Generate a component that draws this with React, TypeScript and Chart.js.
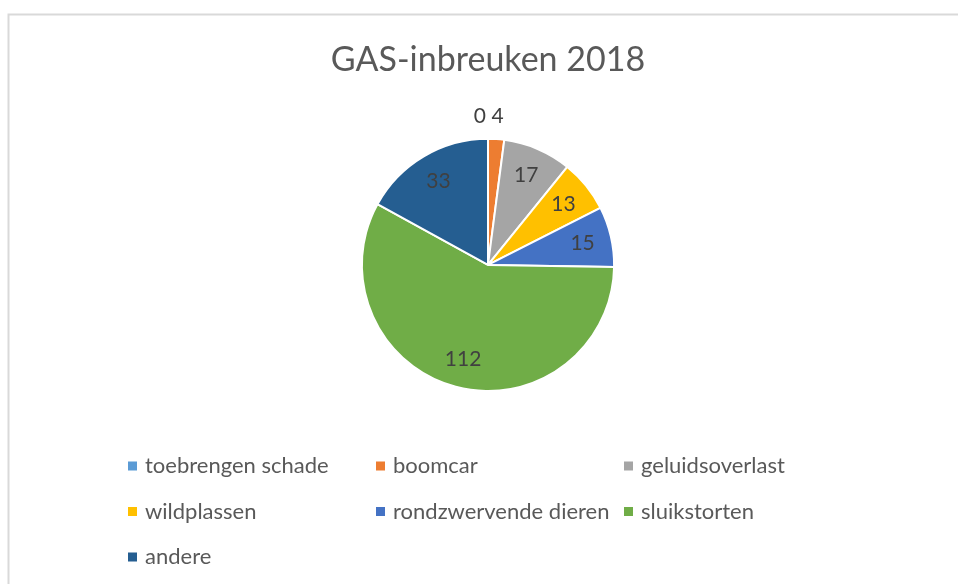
import React, { useEffect, useRef } from "react";
import { Chart, registerables } from "chart.js";

Chart.register(...registerables);

const title = "GAS-inbreuken 2018";
const categories = [
  "toebrengen schade",
  "boomcar",
  "geluidsoverlast",
  "wildplassen",
  "rondzwervende dieren",
  "sluikstorten",
  "andere",
];
const values = [0, 4, 17, 13, 15, 112, 33];
const colors = ["#5B9BD5", "#ED7D31", "#A5A5A5", "#FFC000", "#4472C4", "#70AD47", "#255E91"];

const FONT = "Lato, 'Open Sans', 'DejaVu Sans', sans-serif";
const TEXT = "#595959";
const LABEL = "#404040";

const framePlugin = {
  id: "frame",
  beforeDraw(chart: any) {
    const ctx = chart.ctx;
    ctx.save();
    ctx.fillStyle = "#ffffff";
    ctx.fillRect(0, 0, chart.width, chart.height);
    ctx.strokeStyle = "#d9d9d9";
    ctx.lineWidth = 2;
    ctx.beginPath();
    ctx.moveTo(8.5, chart.height + 2);
    ctx.lineTo(8.5, 14.5);
    ctx.lineTo(chart.width + 2, 14.5);
    ctx.stroke();
    ctx.restore();
  },
};

const labelPlugin = {
  id: "sliceLabels",
  afterDatasetsDraw(chart: any) {
    const ctx = chart.ctx;
    const meta = chart.getDatasetMeta(0);
    const data = chart.data.datasets[0].data as number[];
    const total = data.reduce((a, b) => a + b, 0);
    ctx.save();
    ctx.font = `21px ${FONT}`;
    ctx.fillStyle = LABEL;
    ctx.textBaseline = "middle";
    meta.data.forEach((arc: any, i: number) => {
      const p = arc.getProps(["x", "y", "startAngle", "endAngle", "outerRadius"], true);
      const mid = (p.startAngle + p.endAngle) / 2;
      const frac = data[i] / total;
      const outside = frac < 0.03;
      const rr = outside ? p.outerRadius + 23 : p.outerRadius * 0.77;
      let px = p.x + Math.cos(mid) * rr;
      const py = p.y + Math.sin(mid) * rr;
      if (outside && data[i] === 0) {
        ctx.textAlign = "right";
        px -= 2;
      } else {
        ctx.textAlign = "center";
      }
      ctx.fillText(String(data[i]), px, py);
    });
    ctx.restore();
  },
};

const legendPlugin = {
  id: "gridLegend",
  afterDraw(chart: any) {
    const ctx = chart.ctx;
    const cols = 3;
    const x0 = 128;
    const colW = 248;
    const y0 = 466;
    const rowH = 45.5;
    const box = 9;
    ctx.save();
    ctx.font = `22px ${FONT}`;
    ctx.textBaseline = "middle";
    ctx.textAlign = "left";
    categories.forEach((c, i) => {
      const col = i % cols;
      const row = Math.floor(i / cols);
      const bx = x0 + col * colW;
      const by = y0 + row * rowH;
      ctx.fillStyle = colors[i];
      ctx.fillRect(bx, by - box / 2, box, box);
      ctx.fillStyle = TEXT;
      ctx.fillText(c, bx + 17, by);
    });
    ctx.restore();
  },
};

export default function App() {
  const ref = useRef<HTMLCanvasElement | null>(null);
  useEffect(() => {
    if (!ref.current) return;
    const chart = new Chart(ref.current, {
      type: "pie",
      data: {
        labels: categories,
        datasets: [
          {
            data: values,
            backgroundColor: colors,
            borderColor: "#ffffff",
            borderWidth: 2,
          },
        ],
      },
      options: {
        responsive: false,
        animation: false,
        devicePixelRatio: 1,
        layout: { padding: { top: 40, left: 18, right: 0, bottom: 192 } },
        plugins: {
          legend: { display: false },
          tooltip: { enabled: false },
          title: {
            display: true,
            text: title,
            color: TEXT,
            font: { family: FONT, size: 34, weight: "normal", lineHeight: 1.2 },
            padding: { top: 0, bottom: 57 },
          },
        },
      },
      plugins: [framePlugin, labelPlugin, legendPlugin],
    });
    return () => chart.destroy();
  }, []);
  return (
    <div style={{ position: "absolute", left: 0, top: 0, width: 958, height: 584 }}>
      <canvas ref={ref} width={958} height={584} style={{ width: 958, height: 584 }} />
    </div>
  );
}
